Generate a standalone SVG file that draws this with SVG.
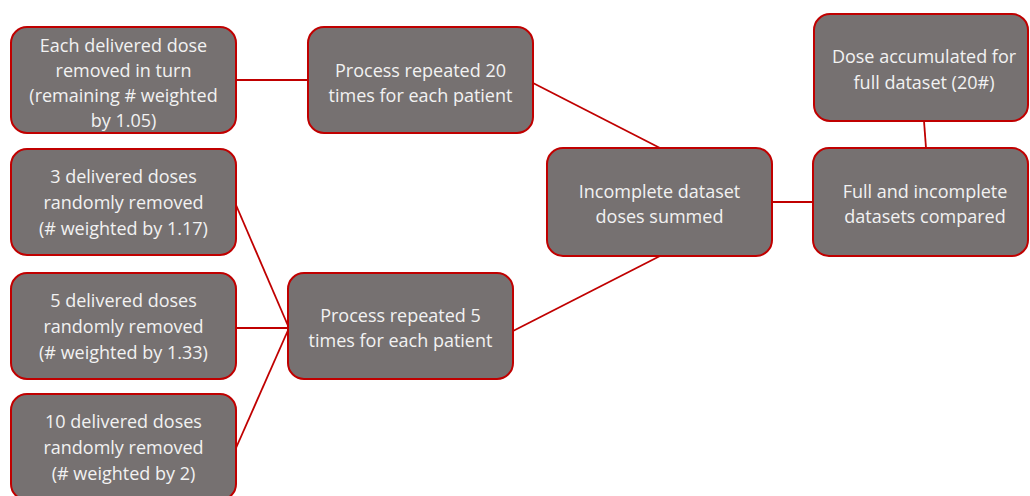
<svg xmlns="http://www.w3.org/2000/svg" width="1030" height="496" viewBox="0 0 1030 496">
  <style>
    .box { fill: #767171; stroke: #C00000; stroke-width: 2; }
    .lbl { font-family: "Open Sans", "Liberation Sans", Arial, sans-serif; font-size: 18px; fill: #F2F2F2; text-anchor: middle; }
    .link { stroke: #C00000; stroke-width: 1.8; fill: none; }
  </style>
  <rect width="1030" height="496" fill="#FFFFFF"/>

  <!-- connectors -->
  <g id="connectors">
    <line class="link" x1="236" y1="80" x2="308" y2="80"/>
    <line class="link" x1="533" y1="83" x2="660" y2="148"/>
    <line class="link" x1="772" y1="202" x2="813" y2="202"/>
    <line class="link" x1="924" y1="121" x2="926" y2="148"/>
    <line class="link" x1="513" y1="331" x2="660" y2="256"/>
    <line class="link" x1="236" y1="205" x2="289" y2="328"/>
    <line class="link" x1="236" y1="328" x2="289" y2="328"/>
    <line class="link" x1="236" y1="448" x2="289" y2="328"/>
  </g>

  <g id="node-each-removed">
    <rect class="box" x="11" y="27" width="225" height="106" rx="16"/>
    <text class="lbl" x="123.5" y="52">Each delivered dose</text>
    <text class="lbl" x="123.5" y="77">removed in turn</text>
    <text class="lbl" x="123.5" y="102">(remaining # weighted</text>
    <text class="lbl" x="123.5" y="127">by 1.05)</text>
  </g>

  <g id="node-repeat-20">
    <rect class="box" x="308" y="27" width="225" height="106" rx="16"/>
    <text class="lbl" x="420.5" y="77">Process repeated 20</text>
    <text class="lbl" x="420.5" y="102">times for each patient</text>
  </g>

  <g id="node-remove-3">
    <rect class="box" x="11" y="149" width="225" height="106" rx="16"/>
    <text class="lbl" x="123.5" y="183">3 delivered doses</text>
    <text class="lbl" x="123.5" y="209">randomly removed</text>
    <text class="lbl" x="123.5" y="235">(# weighted by 1.17)</text>
  </g>

  <g id="node-remove-5">
    <rect class="box" x="11" y="273" width="225" height="106" rx="16"/>
    <text class="lbl" x="123.5" y="307">5 delivered doses</text>
    <text class="lbl" x="123.5" y="333">randomly removed</text>
    <text class="lbl" x="123.5" y="359">(# weighted by 1.33)</text>
  </g>

  <g id="node-remove-10">
    <rect class="box" x="11" y="394" width="225" height="106" rx="16"/>
    <text class="lbl" x="123.5" y="428">10 delivered doses</text>
    <text class="lbl" x="123.5" y="454">randomly removed</text>
    <text class="lbl" x="123.5" y="480">(# weighted by 2)</text>
  </g>

  <g id="node-repeat-5">
    <rect class="box" x="288" y="273" width="225" height="106" rx="16"/>
    <text class="lbl" x="400.5" y="322">Process repeated 5</text>
    <text class="lbl" x="400.5" y="347">times for each patient</text>
  </g>

  <g id="node-incomplete-summed">
    <rect class="box" x="547" y="148" width="225" height="108" rx="16"/>
    <text class="lbl" x="659.5" y="198">Incomplete dataset</text>
    <text class="lbl" x="659.5" y="223">doses summed</text>
  </g>

  <g id="node-compared">
    <rect class="box" x="813" y="148" width="215" height="108" rx="16"/>
    <text class="lbl" x="925" y="198">Full and incomplete</text>
    <text class="lbl" x="925" y="223">datasets compared</text>
  </g>

  <g id="node-accumulated">
    <rect class="box" x="814" y="14" width="214" height="107" rx="16"/>
    <text class="lbl" x="924" y="63">Dose accumulated for</text>
    <text class="lbl" x="924" y="89">full dataset (20#)</text>
  </g>
</svg>
